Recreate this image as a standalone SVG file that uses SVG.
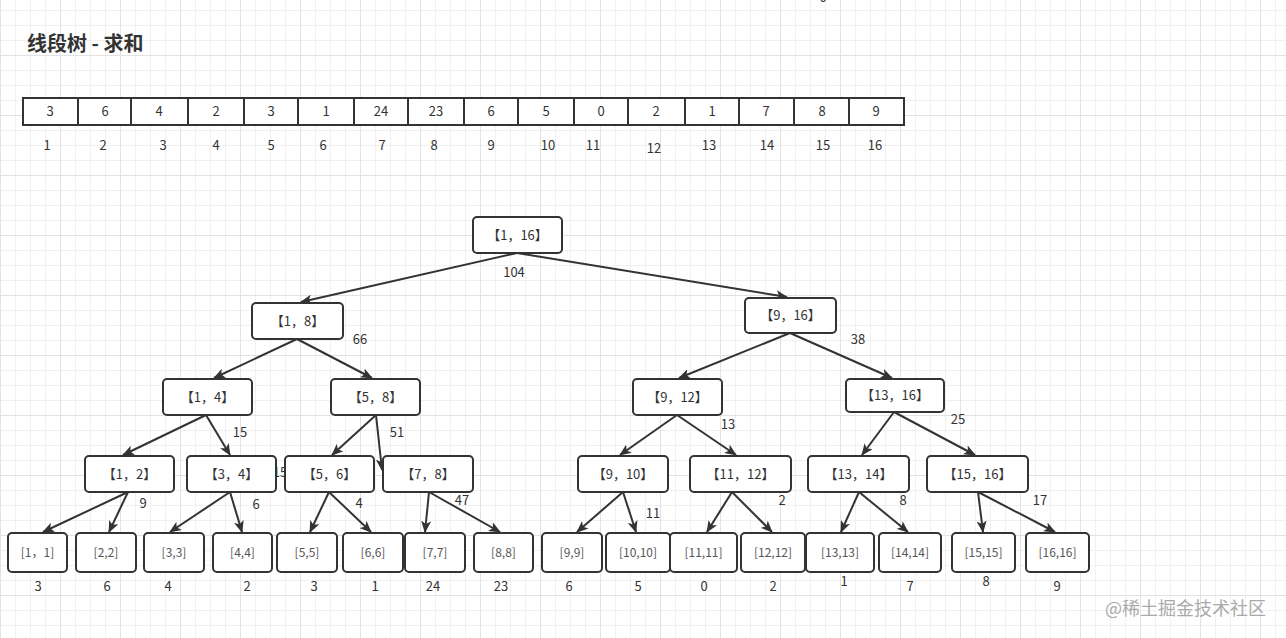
<svg xmlns="http://www.w3.org/2000/svg" width="1286" height="638" viewBox="0 0 1286 638">
<style>
text{font-family:"Noto Sans CJK SC","Noto Sans",sans-serif;fill:#333;font-size:13px;text-anchor:middle}
.title{font-size:20px;font-weight:bold;text-anchor:start;fill:#333}
.cell{fill:#fff;stroke:#333;stroke-width:2}
.node{fill:#fff;stroke:#333;stroke-width:2}
.leaf text,.leaft{font-size:12px;fill:#555}
.edge{stroke:#333;stroke-width:2;fill:none;marker-end:url(#arr)}
.wm{font-size:18px;fill:#aaa;text-anchor:start}
</style>
<defs>
<pattern id="grid" patternUnits="userSpaceOnUse" x="0" y="55" width="60" height="60">
<rect width="60" height="60" fill="#fff"/>
<path d="M15.5 0V60M30.5 0V60M45.5 0V60M0 15.5H60M0 30.5H60M0 45.5H60" stroke="#f0f0f0" stroke-width="1"/>
<path d="M0.5 0V60M0 0.5H60" stroke="#e2e2e2" stroke-width="1"/>
</pattern>
<marker id="arr" viewBox="0 0 12 10" refX="11" refY="5" markerWidth="12" markerHeight="10" markerUnits="userSpaceOnUse" orient="auto">
<path d="M0,0 L12,5 L0,10 L3,5 z" fill="#333"/>
</marker>
</defs>
<rect width="1286" height="638" fill="url(#grid)"/>
<text x="823" y="2">0</text>
<text class="title" x="27" y="51">线段树 - 求和</text>

<g id="array">
<g id="cell1"><rect class="cell" x="23" y="98" width="55" height="27"/><text x="50" y="116">3</text></g>
<g id="cell2"><rect class="cell" x="78" y="98" width="53" height="27"/><text x="105" y="116">6</text></g>
<g id="cell3"><rect class="cell" x="131" y="98" width="57" height="27"/><text x="159" y="116">4</text></g>
<g id="cell4"><rect class="cell" x="188" y="98" width="56" height="27"/><text x="216" y="116">2</text></g>
<g id="cell5"><rect class="cell" x="244" y="98" width="54" height="27"/><text x="271" y="116">3</text></g>
<g id="cell6"><rect class="cell" x="298" y="98" width="56" height="27"/><text x="326" y="116">1</text></g>
<g id="cell7"><rect class="cell" x="354" y="98" width="54" height="27"/><text x="381" y="116">24</text></g>
<g id="cell8"><rect class="cell" x="408" y="98" width="56" height="27"/><text x="436" y="116">23</text></g>
<g id="cell9"><rect class="cell" x="464" y="98" width="54" height="27"/><text x="491" y="116">6</text></g>
<g id="cell10"><rect class="cell" x="518" y="98" width="56" height="27"/><text x="546" y="116">5</text></g>
<g id="cell11"><rect class="cell" x="574" y="98" width="54" height="27"/><text x="601" y="116">0</text></g>
<g id="cell12"><rect class="cell" x="628" y="98" width="57" height="27"/><text x="656" y="116">2</text></g>
<g id="cell13"><rect class="cell" x="685" y="98" width="54" height="27"/><text x="712" y="116">1</text></g>
<g id="cell14"><rect class="cell" x="739" y="98" width="55" height="27"/><text x="766" y="116">7</text></g>
<g id="cell15"><rect class="cell" x="794" y="98" width="55" height="27"/><text x="822" y="116">8</text></g>
<g id="cell16"><rect class="cell" x="849" y="98" width="55" height="27"/><text x="876" y="116">9</text></g>
</g>
<g id="indices">
<text x="47" y="150">1</text><text x="103" y="150">2</text><text x="163" y="150">3</text><text x="216" y="150">4</text>
<text x="271" y="150">5</text><text x="323" y="150">6</text><text x="382" y="150">7</text><text x="434" y="150">8</text>
<text x="491" y="150">9</text><text x="548" y="150">10</text><text x="593" y="150">11</text><text x="654" y="153">12</text>
<text x="709" y="150">13</text><text x="767" y="150">14</text><text x="823" y="150">15</text><text x="875" y="150">16</text>
</g>

<g id="connectors">
<line class="edge" x1="517" y1="253" x2="301" y2="302"/>
<line class="edge" x1="517" y1="253" x2="787" y2="297"/>
<line class="edge" x1="297" y1="339" x2="214" y2="378"/>
<line class="edge" x1="297" y1="339" x2="372" y2="378"/>
<line class="edge" x1="790" y1="333" x2="679" y2="378"/>
<line class="edge" x1="790" y1="333" x2="892" y2="378"/>
<line class="edge" x1="206" y1="415" x2="123" y2="455"/>
<line class="edge" x1="206" y1="415" x2="230" y2="455"/>
<line class="edge" x1="376" y1="415" x2="332" y2="455"/>
<line class="edge" x1="376" y1="415" x2="382" y2="470"/>
<line class="edge" x1="677" y1="415" x2="620" y2="455"/>
<line class="edge" x1="677" y1="415" x2="736" y2="455"/>
<line class="edge" x1="894" y1="412" x2="862" y2="455"/>
<line class="edge" x1="894" y1="412" x2="975" y2="455"/>
<line class="edge" x1="128" y1="492" x2="43" y2="532"/>
<line class="edge" x1="128" y1="492" x2="109" y2="532"/>
<line class="edge" x1="230" y1="492" x2="170" y2="532"/>
<line class="edge" x1="230" y1="492" x2="242" y2="532"/>
<line class="edge" x1="329" y1="492" x2="310" y2="532"/>
<line class="edge" x1="329" y1="492" x2="371" y2="532"/>
<line class="edge" x1="429" y1="492" x2="425" y2="532"/>
<line class="edge" x1="429" y1="492" x2="500" y2="532"/>
<line class="edge" x1="623" y1="492" x2="577" y2="532"/>
<line class="edge" x1="623" y1="492" x2="636" y2="532"/>
<line class="edge" x1="732" y1="492" x2="707" y2="532"/>
<line class="edge" x1="732" y1="492" x2="772" y2="532"/>
<line class="edge" x1="859" y1="492" x2="841" y2="532"/>
<line class="edge" x1="859" y1="492" x2="908" y2="532"/>
<line class="edge" x1="978" y1="492" x2="983" y2="532"/>
<line class="edge" x1="978" y1="492" x2="1055" y2="532"/>
<text x="514" y="277">104</text>
<text x="360" y="344">66</text>
<text x="858" y="344">38</text>
<text x="240" y="437">15</text>
<text x="397" y="437">51</text>
<text x="728" y="429">13</text>
<text x="958" y="424">25</text>
<text x="280" y="477">15</text>
<text x="143" y="508">9</text>
<text x="256" y="509">6</text>
<text x="359" y="508">4</text>
<text x="462" y="505">47</text>
<text x="653" y="518">11</text>
<text x="782" y="505">2</text>
<text x="903" y="505">8</text>
<text x="1040" y="505">17</text>
</g>

<g id="n1-16"><rect class="node" x="473" y="217" width="89" height="36" rx="4"/><text x="517.5" y="239.5">【1，16】</text></g>
<g id="n1-8"><rect class="node" x="252" y="303" width="91" height="36" rx="4"/><text x="297.5" y="325.5">【1，8】</text></g>
<g id="n9-16"><rect class="node" x="745" y="298" width="91" height="35" rx="4"/><text x="790.5" y="320">【9，16】</text></g>
<g id="n1-4"><rect class="node" x="163" y="379" width="89" height="36" rx="4"/><text x="207.5" y="401.5">【1，4】</text></g>
<g id="n5-8"><rect class="node" x="331" y="379" width="89" height="36" rx="4"/><text x="375.5" y="401.5">【5，8】</text></g>
<g id="n9-12"><rect class="node" x="633" y="379" width="89" height="36" rx="4"/><text x="677.5" y="401.5">【9，12】</text></g>
<g id="n13-16"><rect class="node" x="846" y="379" width="98" height="33" rx="4"/><text x="895" y="400">【13，16】</text></g>
<g id="n1-2"><rect class="node" x="85" y="456" width="89" height="36" rx="4"/><text x="129.5" y="478.5">【1，2】</text></g>
<g id="n3-4"><rect class="node" x="187" y="456" width="89" height="36" rx="4"/><text x="231.5" y="478.5">【3，4】</text></g>
<g id="n5-6"><rect class="node" x="285" y="456" width="89" height="36" rx="4"/><text x="329.5" y="478.5">【5，6】</text></g>
<g id="n7-8"><rect class="node" x="383" y="456" width="90" height="36" rx="4"/><text x="428" y="478.5">【7，8】</text></g>
<g id="n9-10"><rect class="node" x="578" y="456" width="90" height="36" rx="4"/><text x="623" y="478.5">【9，10】</text></g>
<g id="n11-12"><rect class="node" x="690" y="456" width="101" height="36" rx="4"/><text x="740.5" y="478.5">【11，12】</text></g>
<g id="n13-14"><rect class="node" x="808" y="456" width="101" height="36" rx="4"/><text x="858.5" y="478.5">【13，14】</text></g>
<g id="n15-16"><rect class="node" x="927" y="456" width="101" height="36" rx="4"/><text x="977.5" y="478.5">【15，16】</text></g>

<g id="l1" class="leaf"><rect class="node" x="8" y="533" width="59" height="39" rx="4"/><text x="37.5" y="557">[1，1]</text></g>
<g id="l2" class="leaf"><rect class="node" x="76" y="533" width="60" height="39" rx="4"/><text x="106" y="557">[2,2]</text></g>
<g id="l3" class="leaf"><rect class="node" x="144" y="533" width="60" height="39" rx="4"/><text x="174" y="557">[3,3]</text></g>
<g id="l4" class="leaf"><rect class="node" x="213" y="533" width="59" height="39" rx="4"/><text x="242.5" y="557">[4,4]</text></g>
<g id="l5" class="leaf"><rect class="node" x="277" y="533" width="60" height="39" rx="4"/><text x="307" y="557">[5,5]</text></g>
<g id="l6" class="leaf"><rect class="node" x="343" y="533" width="60" height="39" rx="4"/><text x="373" y="557">[6,6]</text></g>
<g id="l7" class="leaf"><rect class="node" x="405" y="533" width="60" height="39" rx="4"/><text x="435" y="557">[7,7]</text></g>
<g id="l8" class="leaf"><rect class="node" x="474" y="533" width="59" height="39" rx="4"/><text x="503.5" y="557">[8,8]</text></g>
<g id="l9" class="leaf"><rect class="node" x="542" y="533" width="60" height="39" rx="4"/><text x="572" y="557">[9,9]</text></g>
<g id="l10" class="leaf"><rect class="node" x="606" y="533" width="64" height="39" rx="4"/><text x="638" y="557">[10,10]</text></g>
<g id="l11" class="leaf"><rect class="node" x="670" y="533" width="67" height="39" rx="4"/><text x="703.5" y="557">[11,11]</text></g>
<g id="l12" class="leaf"><rect class="node" x="741" y="533" width="64" height="39" rx="4"/><text x="773" y="557">[12,12]</text></g>
<g id="l13" class="leaf"><rect class="node" x="806" y="533" width="68" height="39" rx="4"/><text x="840" y="557">[13,13]</text></g>
<g id="l14" class="leaf"><rect class="node" x="879" y="533" width="62" height="39" rx="4"/><text x="910" y="557">[14,14]</text></g>
<g id="l15" class="leaf"><rect class="node" x="952" y="533" width="63" height="39" rx="4"/><text x="983.5" y="557">[15,15]</text></g>
<g id="l16" class="leaf"><rect class="node" x="1026" y="533" width="63" height="39" rx="4"/><text x="1057.5" y="557">[16,16]</text></g>

<g id="leafvalues">
<text x="38" y="591">3</text><text x="107" y="591">6</text><text x="168" y="591">4</text><text x="247" y="591">2</text>
<text x="314" y="591">3</text><text x="375" y="591">1</text><text x="433" y="591">24</text><text x="501" y="591">23</text>
<text x="569" y="591">6</text><text x="638" y="591">5</text><text x="704" y="591">0</text><text x="773" y="591">2</text>
<text x="844" y="586">1</text><text x="910" y="591">7</text><text x="986" y="586">8</text><text x="1057" y="591">9</text>
</g>
<text class="wm" x="1105" y="615">@稀土掘金技术社区</text>
</svg>
